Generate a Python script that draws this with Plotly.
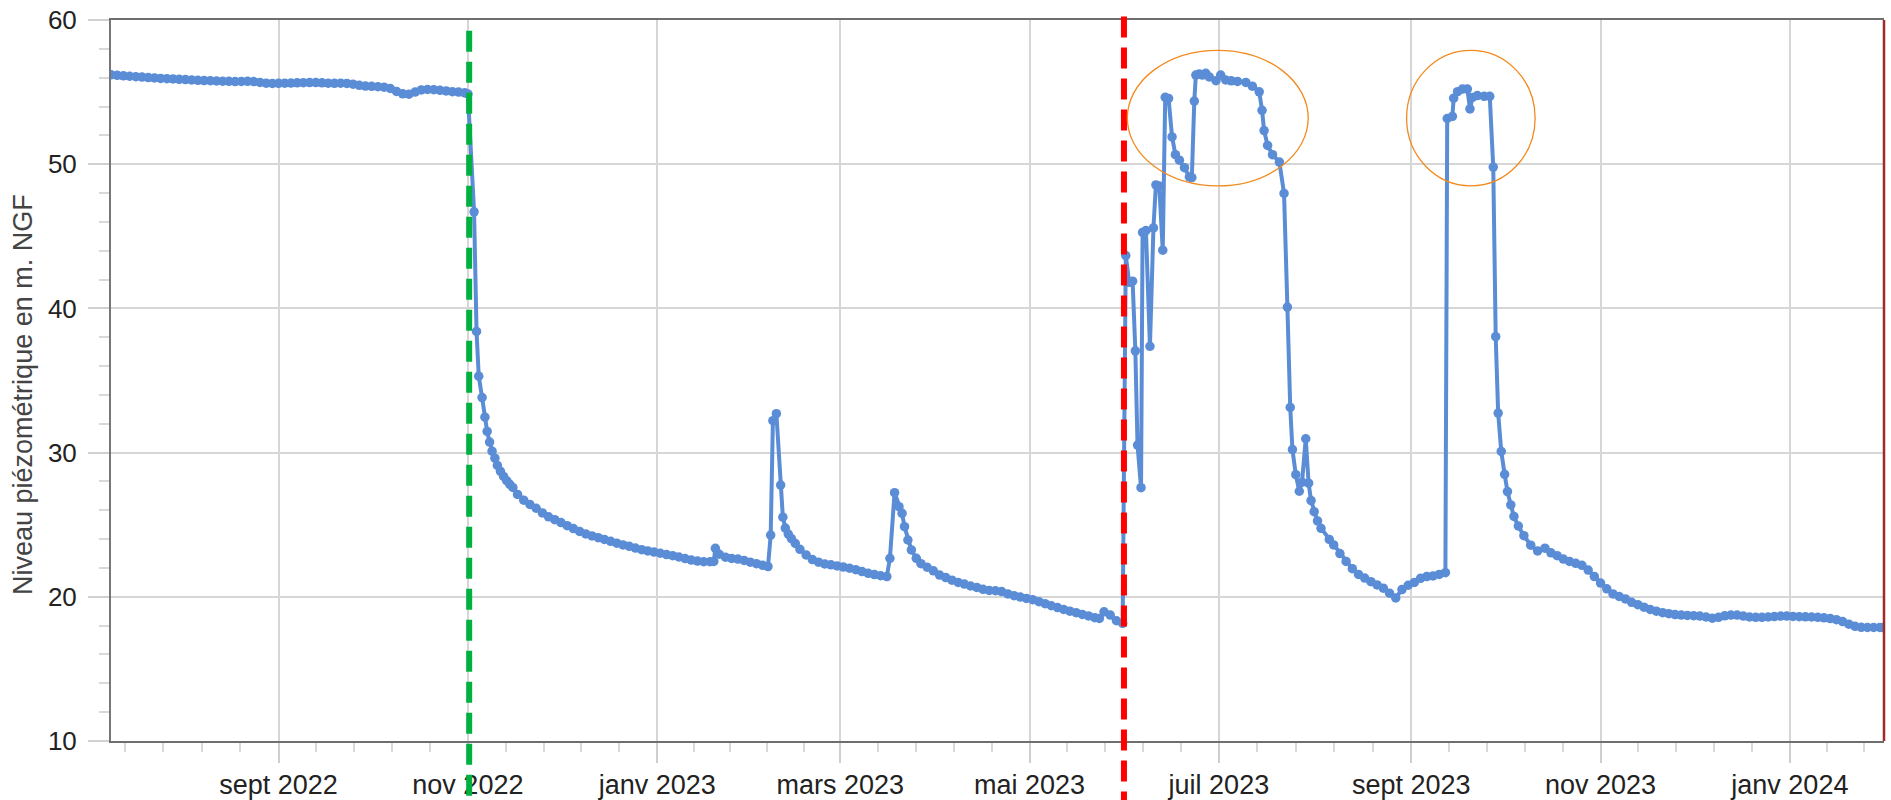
import plotly.graph_objects as go
import pandas as pd

# ---------------- data ----------------
seg1_dates = [
    "2022-07-09", "2022-07-11", "2022-07-13", "2022-07-15", "2022-07-17", "2022-07-19",
    "2022-07-21", "2022-07-23", "2022-07-25", "2022-07-27", "2022-07-29", "2022-07-31",
    "2022-08-02", "2022-08-04", "2022-08-06", "2022-08-08", "2022-08-10", "2022-08-12",
    "2022-08-14", "2022-08-16", "2022-08-18", "2022-08-20", "2022-08-22", "2022-08-24",
    "2022-08-26", "2022-08-28", "2022-08-30",
    "2022-09-01", "2022-09-03", "2022-09-05", "2022-09-07", "2022-09-09", "2022-09-11",
    "2022-09-13", "2022-09-15", "2022-09-17", "2022-09-19", "2022-09-21", "2022-09-23",
    "2022-09-25", "2022-09-27", "2022-09-29",
    "2022-10-01", "2022-10-03", "2022-10-05", "2022-10-07", "2022-10-09", "2022-10-11",
    "2022-10-13", "2022-10-15", "2022-10-17", "2022-10-19", "2022-10-21", "2022-10-23",
    "2022-10-25", "2022-10-27", "2022-10-29", "2022-10-31",
]
seg1_levels = [
    56.20, 56.16, 56.13, 56.10, 56.07, 56.04, 56.01, 55.98, 55.95, 55.93, 55.91, 55.89,
    55.87, 55.84, 55.82, 55.80, 55.79, 55.77, 55.76, 55.75, 55.73, 55.74, 55.75, 55.73,
    55.67, 55.62, 55.60,
    55.61, 55.62, 55.63, 55.64, 55.65, 55.66, 55.66, 55.64, 55.62, 55.61, 55.62, 55.60,
    55.55, 55.47, 55.42,
    55.40, 55.37, 55.34, 55.25, 55.05, 54.88, 54.85, 55.00, 55.15, 55.18, 55.17, 55.12,
    55.08, 55.03, 55.00, 54.95,
]

seg2_dates = [
    "2022-11-01 00:00", "2022-11-03 00:00", "2022-11-03 19:00", "2022-11-04 12:00",
    "2022-11-05 14:00", "2022-11-06 12:00", "2022-11-07 05:00", "2022-11-08 00:00",
    "2022-11-08 19:00", "2022-11-09 17:00", "2022-11-10 12:00", "2022-11-11 12:00",
    "2022-11-12 12:00", "2022-11-13 12:00", "2022-11-14 12:00", "2022-11-15 12:00",
    "2022-11-17", "2022-11-19", "2022-11-21", "2022-11-23", "2022-11-25", "2022-11-27",
    "2022-11-29", "2022-12-01", "2022-12-03", "2022-12-05", "2022-12-07", "2022-12-09",
    "2022-12-11", "2022-12-13", "2022-12-15", "2022-12-17", "2022-12-19", "2022-12-21",
    "2022-12-23", "2022-12-25", "2022-12-27", "2022-12-29", "2022-12-31",
    "2023-01-02", "2023-01-04", "2023-01-06", "2023-01-08", "2023-01-10", "2023-01-12",
    "2023-01-14", "2023-01-16", "2023-01-18", "2023-01-19 06:00", "2023-01-19 18:00",
    "2023-01-21", "2023-01-23", "2023-01-25", "2023-01-27", "2023-01-29", "2023-01-31",
    "2023-02-02", "2023-02-04", "2023-02-05 17:00", "2023-02-06 14:00", "2023-02-07 07:00",
    "2023-02-08 10:00", "2023-02-09 19:00", "2023-02-10 12:00", "2023-02-11 07:00",
    "2023-02-12 06:00", "2023-02-13 06:00", "2023-02-14 12:00", "2023-02-16", "2023-02-18",
    "2023-02-20", "2023-02-22", "2023-02-24", "2023-02-26", "2023-02-28",
    "2023-03-02", "2023-03-04", "2023-03-06", "2023-03-08", "2023-03-10", "2023-03-12",
    "2023-03-14", "2023-03-16", "2023-03-17 00:00", "2023-03-18 12:00", "2023-03-19 22:00",
    "2023-03-20 22:00", "2023-03-21 17:00", "2023-03-22 19:00", "2023-03-23 22:00",
    "2023-03-25 12:00", "2023-03-27", "2023-03-29", "2023-03-31",
    "2023-04-02", "2023-04-04", "2023-04-06", "2023-04-08", "2023-04-10", "2023-04-12",
    "2023-04-14", "2023-04-16", "2023-04-18", "2023-04-20", "2023-04-22", "2023-04-24",
    "2023-04-26", "2023-04-28", "2023-04-30",
    "2023-05-02", "2023-05-04", "2023-05-06", "2023-05-08", "2023-05-10", "2023-05-12",
    "2023-05-14", "2023-05-16", "2023-05-18", "2023-05-20", "2023-05-22", "2023-05-23 12:00",
    "2023-05-25", "2023-05-27", "2023-05-29", "2023-05-31",
]
seg2_levels = [
    54.87, 46.70, 38.40, 35.30,
    33.82, 32.46, 31.47, 30.73,
    30.10, 29.61, 29.11, 28.70,
    28.35, 28.05, 27.80, 27.58,
    27.10, 26.70, 26.40, 26.14, 25.82, 25.55,
    25.35, 25.15, 24.93, 24.73, 24.53, 24.36,
    24.22, 24.10, 23.98, 23.85, 23.72, 23.60,
    23.50, 23.38, 23.27, 23.18, 23.10,
    23.02, 22.93, 22.85, 22.76, 22.65, 22.55,
    22.48, 22.43, 22.43, 22.45, 23.36,
    22.95, 22.75, 22.66, 22.62, 22.52, 22.40,
    22.30, 22.18, 22.10, 24.28, 32.21,
    32.70, 27.75, 25.52, 24.77,
    24.35, 24.04, 23.70, 23.29, 22.90,
    22.58, 22.40, 22.28, 22.22, 22.14,
    22.06, 21.98, 21.88, 21.75, 21.63, 21.54,
    21.46, 21.40, 22.67, 27.22, 26.25,
    25.79, 24.86, 23.94, 23.25,
    22.67, 22.30, 22.05, 21.80,
    21.51, 21.33, 21.15, 21.00, 20.88, 20.75,
    20.65, 20.52, 20.44, 20.42, 20.36, 20.20,
    20.08, 19.98, 19.89,
    19.80, 19.66, 19.52, 19.38, 19.25, 19.12,
    19.00, 18.90, 18.78, 18.67, 18.55, 18.50,
    18.96, 18.73, 18.34, 18.16,
]

seg3_dates = [
    "2023-06-01 00:00", "2023-06-02 02:00", "2023-06-03 05:00", "2023-06-04 02:00",
    "2023-06-04 19:00", "2023-06-05 22:00", "2023-06-06 10:00", "2023-06-07 12:00",
    "2023-06-08 19:00", "2023-06-09 22:00", "2023-06-10 17:00", "2023-06-11 19:00",
    "2023-06-12 22:00", "2023-06-13 17:00", "2023-06-14 19:00", "2023-06-15 22:00",
    "2023-06-17 00:00", "2023-06-18 07:00", "2023-06-19 22:00", "2023-06-21 12:00",
    "2023-06-22 07:00", "2023-06-23 02:00", "2023-06-23 14:00", "2023-06-24 17:00",
    "2023-06-25 17:00", "2023-06-26 19:00", "2023-06-27 22:00", "2023-06-30 02:00",
    "2023-07-01 14:00", "2023-07-03 05:00", "2023-07-05", "2023-07-07",
    "2023-07-09 17:00", "2023-07-11 19:00", "2023-07-14 00:00", "2023-07-14 22:00",
    "2023-07-15 14:00", "2023-07-16 17:00", "2023-07-18 07:00", "2023-07-20 12:00",
    "2023-07-22 00:00", "2023-07-23 02:00", "2023-07-24 00:00", "2023-07-24 17:00",
    "2023-07-25 19:00", "2023-07-26 22:00", "2023-07-27 19:00", "2023-07-29 00:00",
    "2023-07-29 22:00", "2023-07-30 17:00", "2023-07-31 17:00", "2023-08-01 19:00",
    "2023-08-02 22:00", "2023-08-05 14:00", "2023-08-07", "2023-08-09", "2023-08-11",
    "2023-08-13", "2023-08-15", "2023-08-17", "2023-08-19", "2023-08-21", "2023-08-23",
    "2023-08-25", "2023-08-27", "2023-08-29", "2023-08-31",
    "2023-09-02", "2023-09-04", "2023-09-06", "2023-09-08", "2023-09-10", "2023-09-12 00:00",
    "2023-09-12 14:00", "2023-09-14 06:00", "2023-09-14 16:00", "2023-09-15 22:00",
    "2023-09-17 12:00", "2023-09-19 02:00", "2023-09-19 22:00", "2023-09-20 17:00",
    "2023-09-22 07:00", "2023-09-24 12:00", "2023-09-26 07:00", "2023-09-27 10:00",
    "2023-09-28 05:00", "2023-09-29 00:00", "2023-09-30 00:00", "2023-10-01 02:00",
    "2023-10-02 00:00", "2023-10-03 02:00", "2023-10-04 02:00", "2023-10-05 12:00",
    "2023-10-07 07:00", "2023-10-09 12:00", "2023-10-11 17:00", "2023-10-14 02:00",
    "2023-10-16", "2023-10-18", "2023-10-20", "2023-10-22", "2023-10-24", "2023-10-26",
    "2023-10-28", "2023-10-30",
    "2023-11-01", "2023-11-03", "2023-11-05", "2023-11-07", "2023-11-09", "2023-11-11",
    "2023-11-13", "2023-11-15", "2023-11-17", "2023-11-19", "2023-11-21", "2023-11-23",
    "2023-11-25", "2023-11-27", "2023-11-29",
    "2023-12-01", "2023-12-03", "2023-12-05", "2023-12-07", "2023-12-09", "2023-12-11",
    "2023-12-13", "2023-12-15", "2023-12-17", "2023-12-19", "2023-12-21", "2023-12-23",
    "2023-12-25", "2023-12-27", "2023-12-29", "2023-12-31",
    "2024-01-02", "2024-01-04", "2024-01-06", "2024-01-08", "2024-01-10", "2024-01-12",
    "2024-01-14", "2024-01-16", "2024-01-18", "2024-01-20", "2024-01-22", "2024-01-24",
    "2024-01-26", "2024-01-28", "2024-01-30", "2024-01-31",
]
seg3_levels = [
    43.66, 41.81, 41.89, 37.06,
    30.52, 27.57, 45.27, 45.40,
    37.37, 45.58, 48.56, 48.48,
    44.04, 54.64, 54.56, 51.89,
    50.66, 50.28, 49.76, 49.12,
    49.07, 54.38, 56.18, 56.26,
    56.18, 56.30, 56.05, 55.79,
    56.18, 55.84, 55.78, 55.74,
    55.67, 55.41, 55.02, 53.74,
    52.33, 51.30, 50.66, 50.15,
    47.97, 40.09, 33.13, 30.21,
    28.47, 27.32, 27.95, 30.96,
    27.88, 26.67, 25.90, 25.26,
    24.75, 23.98, 23.60, 23.00, 22.45,
    21.95, 21.55, 21.30, 21.05, 20.82, 20.60,
    20.25, 19.92, 20.50, 20.80,
    21.00, 21.28, 21.40, 21.45, 21.55, 21.67,
    53.17, 53.31, 54.58, 55.03,
    55.21, 55.21, 53.83, 54.63,
    54.76, 54.71, 54.71, 49.80,
    38.04, 32.74, 30.08, 28.49,
    27.30, 26.37, 25.57, 24.91,
    24.24, 23.58, 23.18, 23.37,
    23.05, 22.85, 22.62, 22.45, 22.32, 22.18,
    21.85, 21.40,
    20.95, 20.55, 20.20, 20.02, 19.85, 19.62,
    19.45, 19.28, 19.12, 19.00, 18.90, 18.83,
    18.77, 18.73, 18.71,
    18.69, 18.66, 18.60, 18.52, 18.58, 18.68,
    18.73, 18.73, 18.66, 18.60, 18.58, 18.58,
    18.60, 18.63, 18.66, 18.66,
    18.64, 18.62, 18.61, 18.60, 18.58, 18.54,
    18.49, 18.41, 18.28, 18.10, 17.95, 17.88,
    17.87, 17.87, 17.87, 17.87,
]

# axis ticks
tick_dates = ["2022-09-01", "2022-11-01", "2023-01-01", "2023-03-01", "2023-05-01",
              "2023-07-01", "2023-09-01", "2023-11-01", "2024-01-01"]
tick_labels = ["sept 2022", "nov 2022", "janv 2023", "mars 2023", "mai 2023",
               "juil 2023", "sept 2023", "nov 2023", "janv 2024"]
minor_anchor_dates = ["2022-07-01"] + tick_dates + ["2024-03-01"]
x_range = ["2022-07-09 00:00", "2024-01-31 08:00"]
y_range = [10, 60]
y_ticks = [10, 20, 30, 40, 50, 60]

# event markers
green_event_date = "2022-11-01 10:00"
red_event_date = "2023-05-31 10:00"
top_marker_date = "2022-11-01 10:00"
top_marker_level = 61.2
ellipse1 = dict(start="2023-06-01 12:00", end="2023-07-29 19:00", low=48.5, high=57.9)
ellipse2 = dict(start="2023-08-30 12:00", end="2023-10-10 22:00", low=48.5, high=57.9)

y_title = "Niveau piézométrique en m. NGF"

# ---------------- figure ----------------
dates = pd.to_datetime(seg1_dates + seg2_dates + seg3_dates, format="ISO8601")
levels = seg1_levels + seg2_levels + seg3_levels

blue = "#5a8dd6"
font_family = "Arial, 'Liberation Sans', sans-serif"

fig = go.Figure()
fig.add_trace(go.Scatter(
    x=dates, y=levels, mode="lines+markers",
    line=dict(color=blue, width=4),
    marker=dict(color=blue, size=9.5),
    hoverinfo="x+y", showlegend=False,
))
fig.add_trace(go.Scatter(
    x=[pd.Timestamp(top_marker_date)], y=[top_marker_level], mode="markers",
    marker=dict(symbol="triangle-down", size=10, color="#555555"),
    cliponaxis=False, showlegend=False, hoverinfo="skip",
))

# minor x ticks: five subdivisions of each two-month interval
anchors = pd.to_datetime(minor_anchor_dates)
minor_x = []
for a, b in zip(anchors[:-1], anchors[1:]):
    for k in range(1, 5):
        minor_x.append(a + (b - a) * k / 5)

grid_col = "#d6d6d6"
fig.update_xaxes(
    type="date", range=x_range, automargin=False,
    tickmode="array", tickvals=pd.to_datetime(tick_dates), ticktext=tick_labels,
    showgrid=True, gridcolor=grid_col, gridwidth=1.5,
    ticks="outside", ticklen=20, tickcolor="#cfcfcf", tickwidth=1.5,
    ticklabelstandoff=-1, ticklabeloverflow="allow",
    minor=dict(tickmode="array", tickvals=minor_x, ticks="outside", ticklen=9,
               tickcolor="#d9d9d9", tickwidth=1.5, showgrid=False),
    showline=True, linecolor="#6e6e6e", linewidth=2, mirror=True,
    tickfont=dict(family=font_family, size=27, color="#222222"),
    zeroline=False,
)
fig.update_yaxes(
    range=y_range, tickmode="array", tickvals=y_ticks, automargin=False,
    showgrid=True, gridcolor=grid_col, gridwidth=1.5,
    ticks="outside", ticklen=21, tickcolor="#d0d0d0", tickwidth=1.5,
    ticklabelstandoff=6, ticklabeloverflow="allow",
    minor=dict(dtick=2, tick0=0, ticks="outside", ticklen=10, tickcolor="#d9d9d9",
               tickwidth=1.5, showgrid=False),
    showline=True, linecolor="#777777", linewidth=2, mirror=False,
    tickfont=dict(family=font_family, size=26, color="#222222"),
    zeroline=False,
)

# y-axis title
fig.add_annotation(text=y_title, xref="paper", yref="paper", x=-0.0496, y=0.48,
                   textangle=-90, showarrow=False, xanchor="center", yanchor="middle",
                   font=dict(family=font_family, size=27, color="#444444"))

# right border (dark red)
fig.add_shape(type="line", xref="paper", yref="paper", x0=1, x1=1, y0=0, y1=1,
              line=dict(color="#9e2a2a", width=2.5))
# vertical dashed event lines
fig.add_shape(type="line", xref="x", yref="paper",
              x0=green_event_date, x1=green_event_date, y0=0.985, y1=-0.085,
              line=dict(color="#00b140", width=6, dash="21px,10px"))
fig.add_shape(type="line", xref="x", yref="paper",
              x0=red_event_date, x1=red_event_date, y0=1.005, y1=-0.085,
              line=dict(color="#ff0000", width=6, dash="21px,10px"))
# orange ellipses
for e in (ellipse1, ellipse2):
    fig.add_shape(type="circle", xref="x", yref="y",
                  x0=e["start"], x1=e["end"], y0=e["low"], y1=e["high"],
                  line=dict(color="#f28a1e", width=1.3))

fig.update_layout(
    width=1891, height=800,
    margin=dict(l=111, r=7, t=20, b=59),
    paper_bgcolor="white", plot_bgcolor="white",
    showlegend=False,
    font=dict(family=font_family),
)

# remove the default page margin so the figure fills the window exactly
fig.write_html("out.html",
               config={"displayModeBar": False},
               post_script="document.body.style.margin='0';"
                           "document.body.style.overflow='hidden';")
